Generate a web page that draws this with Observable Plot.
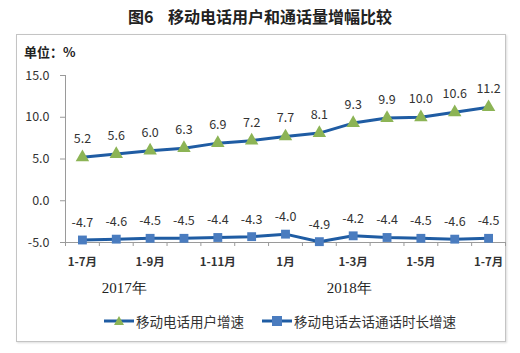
<!DOCTYPE html>
<html>
<head>
<meta charset="utf-8">
<script src="https://cdn.jsdelivr.net/npm/d3@7"></script>
<script src="https://cdn.jsdelivr.net/npm/@observablehq/plot@0.6"></script>
<style>
  html, body { margin: 0; padding: 0; background: #fff; }
  #wrap { position: relative; width: 520px; height: 353px; overflow: hidden; background: #fff;
          font-family: "Noto Sans CJK SC", "Noto Sans", sans-serif; }
  #box { position: absolute; left: 16px; top: 34px; width: 488px; height: 306px;
         border: 1px solid #c4c4c4; box-shadow: 1px 1px 2px #ddd; background: #fff; }
  #title { position: absolute; left: 0; width: 520px; top: 4px; text-align: center;
           font-size: 16px; font-weight: bold; color: #222; white-space: pre; }
  #unit { position: absolute; left: 24px; top: 42px; font-size: 13px; font-weight: bold; color: #222; }
  #chart { position: absolute; left: 0; top: 0; }
  #legend { position: absolute; top: 311px; left: 0; width: 520px; display: flex; justify-content: center;
            gap: 18px; font-size: 13.5px; color: #333; padding-left: 40px; box-sizing: border-box; }
  .item { display: flex; align-items: center; gap: 2px; }
</style>
</head>
<body>
<div id="wrap">
  <div id="box"></div>
  <div id="title">图6    移动电话用户和通话量增幅比较</div>
  <div id="unit">单位：%</div>
  <div id="chart"></div>
  <div id="legend"></div>
</div>
<script>
const categories = ["1-7月","1-8月","1-9月","1-10月","1-11月","1-12月","1月","1-2月","1-3月","1-4月","1-5月","1-6月","1-7月"];
const shownLabels = ["1-7月","","1-9月","","1-11月","","1月","","1-3月","","1-5月","","1-7月"];
const subscriberGrowth = [5.2, 5.6, 6.0, 6.3, 6.9, 7.2, 7.7, 8.1, 9.3, 9.9, 10.0, 10.6, 11.2];
const callTimeGrowth = [-4.7, -4.6, -4.5, -4.5, -4.4, -4.3, -4.0, -4.9, -4.2, -4.4, -4.5, -4.6, -4.5];
const seriesNames = ["移动电话用户增速", "移动电话去话通话时长增速"];
const years = ["2017年", "2018年"];
const yearAnchorCategory = [1, 8];
const yTicks = [-5, 0, 5, 10, 15];

const lineColor = "#1f5ca3";
const triColor = "#8cb455";
const sqColor = "#4a7cbf";

const s1 = subscriberGrowth.map((v, i) => ({i, v}));
const s2 = callTimeGrowth.map((v, i) => ({i, v}));
const idx = categories.map((_, i) => i);
const bounds = d3.range(-0.5, categories.length, 1);
const labelIdx = idx.filter(i => shownLabels[i] !== "");
const yMin = yTicks[0];

const yearText = (k, dx) => Plot.text([years[k]], {
  x: () => yearAnchorCategory[k], y: () => yMin, text: d => d, dx, dy: 46,
  fontSize: 15, fontFamily: "'Liberation Serif', serif", fill: "#222"
});

const chart = Plot.plot({
  width: 520,
  height: 353,
  marginLeft: 65,
  marginRight: 15,
  marginTop: 75,
  marginBottom: 111,
  style: {background: "transparent", fontFamily: "'Noto Sans CJK SC', 'Noto Sans', sans-serif", color: "#333"},
  x: {domain: [-0.5, categories.length - 0.5], axis: null},
  y: {domain: [yTicks[0], yTicks[yTicks.length - 1]], axis: null},
  marks: [
    Plot.ruleX([-0.5], {stroke: "#9a9a9a"}),
    Plot.ruleY([yMin], {stroke: "#9a9a9a"}),
    Plot.axisY({ticks: yTicks, tickFormat: d => d.toFixed(1), tickSize: 5, tickPadding: 11,
                stroke: "#9a9a9a", fontSize: 12.5, fill: "#333", label: null}),
    Plot.axisX({ticks: bounds, tickFormat: () => "", tickSize: 4, stroke: "#9a9a9a", label: null}),
    Plot.axisX({ticks: labelIdx, tickFormat: i => shownLabels[i], tickSize: 0, tickPadding: 15,
                fontSize: 11.5, fontWeight: "bold", fill: "#333", label: null}),
    yearText(0, 8),
    yearText(1, -4),
    Plot.line(s1, {x: "i", y: "v", stroke: lineColor, strokeWidth: 3}),
    Plot.line(s2, {x: "i", y: "v", stroke: lineColor, strokeWidth: 3}),
    Plot.dot(s1, {x: "i", y: "v", symbol: "triangle", r: 5, fill: triColor}),
    Plot.dot(s2, {x: "i", y: "v", symbol: "square", r: 5, fill: sqColor}),
    Plot.text(s1, {x: "i", y: "v", text: d => d.v.toFixed(1), dy: -18, fontSize: 12.5, fill: "#333"}),
    Plot.text(s2, {x: "i", y: "v", text: d => d.v.toFixed(1), dy: -17, fontSize: 12.5, fill: "#333"})
  ]
});
document.getElementById("chart").appendChild(chart);

const legend = document.getElementById("legend");
const icons = [
  `<svg width="30" height="12"><line x1="0" y1="6" x2="30" y2="6" stroke="${lineColor}" stroke-width="3"/><path d="M15,1 L20,10 L10,10 Z" fill="${triColor}"/></svg>`,
  `<svg width="30" height="12"><line x1="0" y1="6" x2="30" y2="6" stroke="${lineColor}" stroke-width="3"/><rect x="10" y="1" width="10" height="10" fill="${sqColor}"/></svg>`
];
seriesNames.forEach((name, k) => {
  const el = document.createElement("div");
  el.className = "item";
  el.innerHTML = icons[k] + `<span>${name}</span>`;
  legend.appendChild(el);
});
</script>
</body>
</html>
